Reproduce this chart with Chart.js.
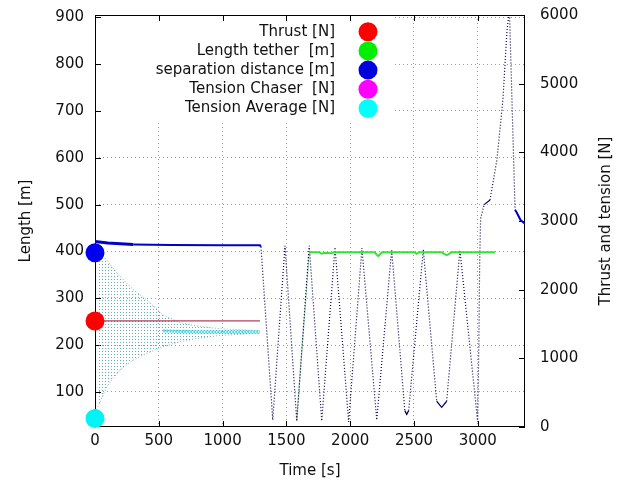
<!DOCTYPE html>
<html>
<head>
<meta charset="utf-8">
<script src="https://cdn.jsdelivr.net/npm/chart.js@4.4.1/dist/chart.umd.min.js"></script>
<style>
html, body { margin: 0; padding: 0; background: #fff; }
</style>
</head>
<body>
<canvas id="grafico" width="625" height="484"></canvas>
<script>
// tick labels
const timeTicks = [0, 500, 1000, 1500, 2000, 2500, 3000];
const lengthTicks = [100, 200, 300, 400, 500, 600, 700, 800, 900];
const forceTicks = [0, 1000, 2000, 3000, 4000, 5000, 6000];

const legendLabels = ['Thrust [N]', 'Length tether  [m]', 'separation distance [m]', 'Tension Chaser  [N]', 'Tension Average [N]'];
const legendColors = ['#ff0000', '#00ee00', '#0000dd', '#ff00ff', '#00ffff'];

// separation distance [m] (left axis)
const sepTime = [0, 100, 300, 600, 1000, 1293, 1301, 1393, 1489, 1581, 1679, 1777, 1881, 1988, 2092, 2208, 2325, 2428, 2443, 2458, 2573, 2678, 2717, 2756, 2860, 2999, 3008, 3015, 3022, 3050, 3096, 3150, 3197, 3229, 3248, 3292, 3307, 3335, 3370];
const sepDist = [421, 418, 415, 414, 413, 413, 410, 40, 412, 38, 412, 38, 409, 36, 407, 40, 404, 60, 52, 60, 404, 80, 67, 80, 403, 36, 200, 380, 470, 500, 510, 596, 724, 873, 915, 489, 482, 467, 459];

// length tether [m] (left axis)
const tetherTime = [1581, 1679, 1700, 1760, 1776, 1800, 1855, 1870, 2190, 2205, 2220, 2235, 2250, 2505, 2521, 2537, 2720, 2740, 2756, 2772, 2790, 3135];
const tetherLen = [38, 397, 398, 398, 395, 397, 396, 398, 398, 394, 390, 394, 398, 398, 395, 398, 398, 394, 392, 394, 398, 398];

// thrust [N] (right axis)
const thrustTime = [0, 1293];
const thrust = [1545, 1545];

// tension spread [N] (right axis)
const tensionTime = [13, 92, 196, 300, 405, 535, 666, 800, 980, 1293];
const tensionHigh = [2579, 2430, 2190, 2000, 1851, 1632, 1520, 1470, 1430, 1403];
const tensionLow = [248, 587, 831, 976, 1074, 1170, 1243, 1290, 1335, 1365];
const avgTime = [535, 800, 1000, 1293];
const tensionAvg = [1400, 1385, 1382, 1384];

// start markers
const startBlue = 397;
const startRed = 1545;
const startCyan = 125;

Chart.defaults.font.family = "'DejaVu Sans', sans-serif";
Chart.defaults.font.size = 15;
Chart.defaults.color = '#111';

const pts = (xs, ys) => xs.map((x, i) => ({ x: x, y: ys[i] }));
const steep = c => Math.abs(c.p1.y - c.p0.y) > 3 * Math.abs(c.p1.x - c.p0.x);
// tratti "puntinati" della distanza: salite/discese rapide, fondi delle oscillazioni, zona caotica finale
const sepDots = c => steep(c) || c.p0.parsed.y < 300 || (c.p0.parsed.x >= 2999 && c.p1.parsed.x <= 3300);

const ctx = document.getElementById('grafico').getContext('2d');

// dotted fill for the tension fan
const pat = document.createElement('canvas');
pat.width = 3; pat.height = 3;
const pc = pat.getContext('2d');
pc.fillStyle = 'rgba(70,160,175,0.85)';
pc.fillRect(0, 0, 1, 1);
const fanFill = ctx.createPattern(pat, 'repeat');

const noOverflow = s => { s.paddingTop = 0; s.paddingBottom = 0; s.paddingLeft = 0; s.paddingRight = 0; };

const cornice = {
    id: 'cornice',
    beforeDatasetsDraw(chart) {
        const { ctx, chartArea: a, scales } = chart;
        ctx.save();
        ctx.fillStyle = '#fff';
        ctx.fillRect(a.left + 1, a.top + 1, 299, 105);
        ctx.strokeStyle = '#000';
        ctx.lineWidth = 1;
        ctx.strokeRect(a.left + 0.5, a.top + 0.5, a.width - 1, a.height - 1);
        ctx.beginPath();
        scales.x.ticks.forEach(t => {
            const px = Math.round(scales.x.getPixelForValue(t.value)) + 0.5;
            ctx.moveTo(px, a.bottom); ctx.lineTo(px, a.bottom - 6);
            ctx.moveTo(px, a.top); ctx.lineTo(px, a.top + 6);
        });
        scales.y.ticks.forEach(t => {
            const py = Math.round(scales.y.getPixelForValue(t.value)) + 0.5;
            ctx.moveTo(a.left, py); ctx.lineTo(a.left + 6, py);
        });
        scales.y2.ticks.forEach(t => {
            const py = Math.round(scales.y2.getPixelForValue(t.value)) + 0.5;
            ctx.moveTo(a.right, py); ctx.lineTo(a.right - 6, py);
        });
        ctx.stroke();
        ctx.restore();
    },
    afterDraw(chart) {
        const { ctx, chartArea: a } = chart;
        ctx.save();
        ctx.font = "15px 'DejaVu Sans', sans-serif";
        ctx.textBaseline = 'middle';
        legendLabels.forEach((txt, i) => {
            const y = a.top + 16.7 + i * 19.2;
            ctx.textAlign = 'right';
            ctx.fillStyle = '#111';
            ctx.fillText(txt, a.left + 240, y);
            ctx.beginPath();
            ctx.arc(a.left + 273, y, 9.5, 0, 2 * Math.PI);
            ctx.fillStyle = legendColors[i];
            ctx.fill();
        });
        // titolo asse destro, letto dal basso verso l'alto
        ctx.translate(606, (a.top + a.bottom) / 2);
        ctx.rotate(-Math.PI / 2);
        ctx.textAlign = 'center';
        ctx.fillStyle = '#111';
        ctx.fillText('Thrust and tension [N]', 0, 0);
        ctx.restore();
    }
};

new Chart(ctx, {
    type: 'line',
    data: {
        datasets: [
            { data: [{ x: 0, y: startBlue }], yAxisID: 'y', pointRadius: 9.5, pointBackgroundColor: '#0000ee', pointBorderWidth: 0, showLine: false, clip: false, order: 0 },
            { data: [{ x: 0, y: startRed }], yAxisID: 'y2', pointRadius: 9.5, pointBackgroundColor: '#ff0000', pointBorderWidth: 0, showLine: false, clip: false, order: 0 },
            { data: [{ x: 0, y: startCyan }], yAxisID: 'y2', pointRadius: 9.5, pointBackgroundColor: '#00f4f4', pointBorderWidth: 0, showLine: false, clip: false, order: 0 },
            {
                label: 'separation distance [m]',
                data: pts(sepTime, sepDist),
                yAxisID: 'y',
                borderColor: '#0000c8',
                borderWidth: 2,
                pointRadius: 0,
                segment: {
                    borderColor: c => sepDots(c) ? '#000050' : undefined,
                    borderWidth: c => sepDots(c) ? 1.2 : (c.p1.parsed.x <= 300 ? 3 : undefined),
                    borderDash: c => steep(c) ? [1, 2] : undefined
                },
                order: 2
            },
            {
                label: 'Length tether  [m]',
                data: pts(tetherTime, tetherLen),
                yAxisID: 'y',
                borderColor: '#33e633',
                borderWidth: 2,
                pointRadius: 0,
                segment: {
                    borderColor: c => steep(c) ? '#2a8a4a' : undefined,
                    borderWidth: c => steep(c) ? 1.2 : undefined,
                    borderDash: c => steep(c) ? [1, 2] : undefined
                },
                order: 1
            },
            {
                label: 'Thrust [N]',
                data: pts(thrustTime, thrust),
                yAxisID: 'y2',
                borderColor: '#a01030',
                borderWidth: 1,
                pointRadius: 0,
                order: 3
            },
            {
                label: 'Tension high',
                data: pts(tensionTime, tensionHigh),
                yAxisID: 'y2',
                borderColor: 'rgba(80,150,160,0.7)',
                borderWidth: 1,
                borderDash: [1, 2],
                pointRadius: 0,
                fill: '+1',
                backgroundColor: fanFill,
                order: 5
            },
            {
                label: 'Tension low',
                data: pts(tensionTime, tensionLow),
                yAxisID: 'y2',
                borderColor: 'rgba(80,150,160,0.7)',
                borderWidth: 1,
                borderDash: [1, 2],
                pointRadius: 0,
                order: 5
            },
            {
                label: 'Tension Average [N]',
                data: pts(avgTime, tensionAvg),
                yAxisID: 'y2',
                borderColor: 'rgba(40,215,230,0.85)',
                borderWidth: 3,
                borderDash: [2, 1],
                pointRadius: 0,
                order: 4
            }
        ]
    },
    options: {
        responsive: false,
        animation: false,
        layout: { padding: { top: 15 } },
        plugins: { legend: { display: false }, tooltip: { enabled: false } },
        scales: {
            x: {
                type: 'linear',
                min: 0,
                max: 3370,
                afterBuildTicks: s => { s.ticks = timeTicks.map(v => ({ value: v })); },
                afterFit: s => { s.height = 57; noOverflow(s); },
                ticks: { padding: 5, maxRotation: 0, callback: v => String(v) },
                grid: { color: '#999', drawTicks: false },
                border: { display: false, dash: [1, 3] },
                title: { display: true, text: 'Time [s]', padding: { top: 0, bottom: 4 } }
            },
            y: {
                position: 'left',
                min: 25,
                max: 905,
                afterBuildTicks: s => { s.ticks = lengthTicks.map(v => ({ value: v })); },
                afterFit: s => { s.width = 95; noOverflow(s); },
                ticks: { padding: 11, callback: v => String(v) },
                grid: { color: '#999', drawTicks: false },
                border: { display: false, dash: [1, 3] },
                title: { display: true, text: 'Length [m]', padding: { top: 17, bottom: 0 } }
            },
            y2: {
                position: 'right',
                min: 0,
                max: 6000,
                afterBuildTicks: s => { s.ticks = forceTicks.map(v => ({ value: v })); },
                afterFit: s => { s.width = 100; noOverflow(s); },
                ticks: { padding: 15, callback: v => String(v) },
                grid: { display: false, drawTicks: false },
                border: { display: false }
            }
        }
    },
    plugins: [cornice]
});
</script>
</body>
</html>
